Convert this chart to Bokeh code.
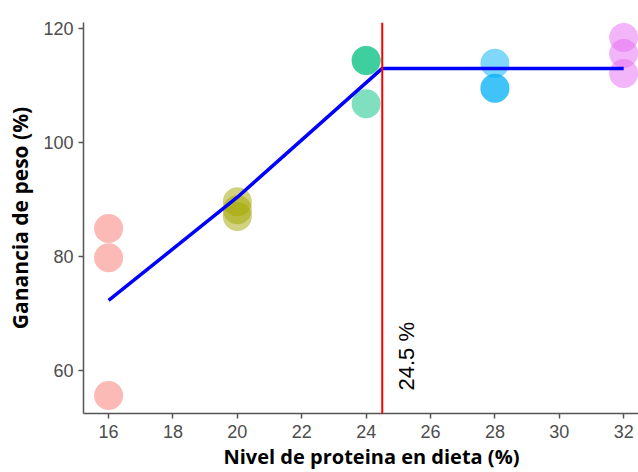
import math
from bokeh.plotting import figure
from bokeh.models import Range1d, Span, FixedTicker, Title, ColumnDataSource
from bokeh.core.properties import value
from bokeh.embed import file_html
from bokeh.resources import INLINE

# Data
protein_16 = [84.9, 79.8, 55.6]
protein_20 = [89.6, 88.2, 87.0]
protein_24 = [114.4, 114.4, 106.8]
protein_28 = [113.9, 109.5, 109.5]
protein_32 = [118.4, 115.6, 112.1]
levels = [16, 20, 24, 28, 32]
groups = [protein_16, protein_20, protein_24, protein_28, protein_32]
group_colors = ["#F8766D", "#A3A500", "#00BF7D", "#00B0F6", "#E76BF3"]

fit_x = [16, 20, 24.5, 32]
fit_y = [72.3, 90.4, 113.0, 113.0]

breakpoint_x = 24.5
breakpoint_label = "24.5 %"
label_y = 56.5

x_ticks = [16, 18, 20, 22, 24, 26, 28, 30, 32]
y_ticks = [60, 80, 100, 120]

p = figure(width=638, height=472, output_backend="svg", toolbar_location=None,
           x_range=Range1d(15.22, 32.46), y_range=Range1d(52.46, 121.05),
           min_border_left=83, min_border_right=0, min_border_top=22, min_border_bottom=59)
p.outline_line_color = None
p.grid.grid_line_color = None
p.background_fill_color = "white"

xs, ys, cs = [], [], []
for lv, vals, c in zip(levels, groups, group_colors):
    for v in vals:
        xs.append(lv); ys.append(v); cs.append(c)
src = ColumnDataSource(dict(x=xs, y=ys, c=cs))
p.scatter("x", "y", source=src, size=29, fill_color="c", fill_alpha=0.5, line_color=None)

p.line(fit_x, fit_y, line_color="#0000FF", line_width=3.5)

p.add_layout(Span(location=breakpoint_x, dimension="height", line_color="#FF0000", line_width=2))

p.text(x=[breakpoint_x], y=[label_y], text=[breakpoint_label], angle=math.pi / 2,
       x_offset=24, text_align="left", text_baseline="middle",
       text_font=value("Liberation Sans"), text_font_size="22px", text_color="black")

for ax in (p.xaxis[0], p.yaxis[0]):
    ax.axis_line_color = "#555555"
    ax.axis_line_width = 1.5
    ax.major_tick_line_color = "#555555"
    ax.major_tick_line_width = 1.5
    ax.major_tick_out = 5
    ax.major_tick_in = 0
    ax.minor_tick_line_color = None
    ax.major_label_text_font = "Liberation Sans"
    ax.major_label_text_font_size = "18px"
    ax.major_label_text_color = "#4D4D4D"

p.xaxis.ticker = FixedTicker(ticks=x_ticks)
p.yaxis.ticker = FixedTicker(ticks=y_ticks)
p.xaxis.major_label_standoff = 6
p.yaxis.major_label_standoff = 5

p.yaxis.axis_label = "Ganancia de peso (%)"
p.yaxis.axis_label_text_font = "Open Sans"
p.yaxis.axis_label_text_font_style = "bold"
p.yaxis.axis_label_text_font_size = "21px"
p.yaxis.axis_label_text_color = "black"
p.yaxis.axis_label_standoff = 6

p.add_layout(Title(text="Nivel de proteina en dieta (%)", align="left", offset=140,
                   text_font="Open Sans", text_font_style="bold", text_font_size="20px",
                   text_color="black", standoff=0), "below")

open("out.html", "w").write(file_html(p, INLINE))
